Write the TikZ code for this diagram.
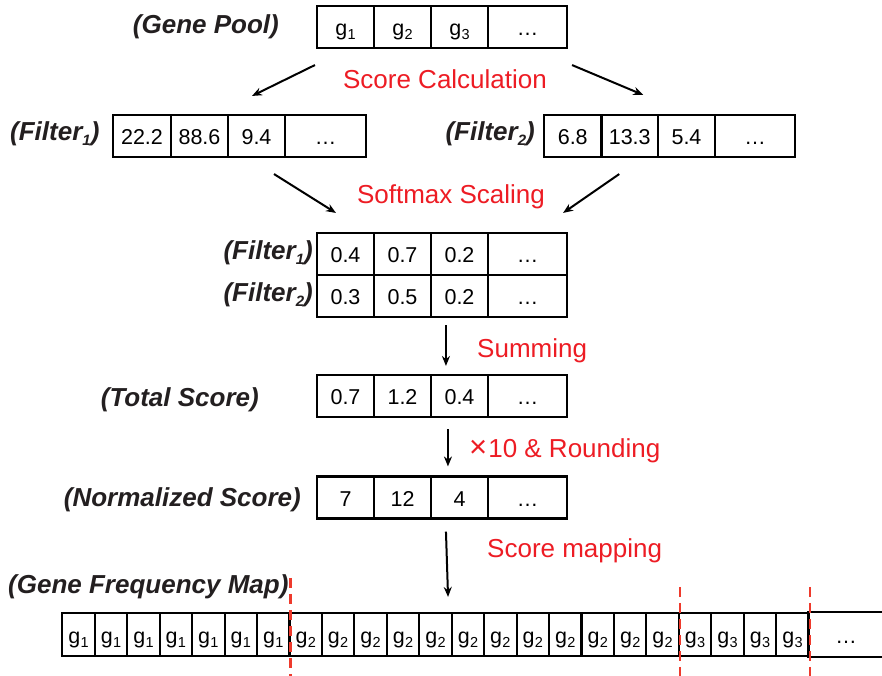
\documentclass[tikz,border=0pt]{standalone}
\usepackage{fontspec}
\setmainfont{Liberation Sans}
\usetikzlibrary{arrows.meta}

\definecolor{opred}{HTML}{ED1C24}
\definecolor{cutred}{HTML}{EE3A2C}
\definecolor{ink}{HTML}{231F20}

\newcommand\cellfont{\fontsize{21.5pt}{24pt}\selectfont}
\newcommand\lblfont{\fontsize{26pt}{30pt}\selectfont\bfseries\itshape}
\newcommand\opfont{\fontsize{26pt}{30pt}\selectfont}
% gene symbol with a lowered index
\newcommand\gene[1]{g\kern0.3pt\raisebox{-4pt}{\fontsize{14.5pt}{14.5pt}\selectfont #1}}
% lowered index inside the bold italic row labels
\newcommand\fsub[1]{\raisebox{-5pt}{\fontsize{15pt}{15pt}\selectfont #1}}

\tikzset{
  cell/.style={draw=black, line width=2.1pt, inner sep=0pt, minimum height=42pt,
               text height=17pt, text depth=0pt, font=\cellfont, text=black},
  lbl/.style={font=\lblfont, text=ink, inner sep=0pt},
  op/.style={font=\opfont, text=opred, inner sep=0pt},
  flow/.style={-{Stealth[length=10pt,width=8pt]}, line width=2pt},
  cut/.style={draw=cutred, line width=2.2pt, dash pattern=on 10pt off 6pt}
}

\begin{document}
\begin{tikzpicture}[x=1pt,y=-1pt]
\useasboundingbox (0,0) rectangle (882,675);

% ---- gene pool
\node[lbl, anchor=base east] (lgp) at (279,33) {(Gene Pool)};
\node[cell, minimum width=57pt] (gp1) at (345.5,27) {\gene{1}};
\node[cell, minimum width=57pt] (gp2) at (402.5,27) {\gene{2}};
\node[cell, minimum width=57pt] (gp3) at (459.5,27) {\gene{3}};
\node[cell, minimum width=79pt] (gp4) at (527.5,27) {…};

\node[op, anchor=base] (opscore) at (445,88) {Score Calculation};

% ---- raw filter scores
\node[lbl, anchor=base west] (lf1) at (10,140) {(Filter\fsub{1})};
\node[cell, minimum width=58pt] (fa1) at (142,136) {22.2};
\node[cell, minimum width=57pt] (fa2) at (199.5,136) {88.6};
\node[cell, minimum width=57pt] (fa3) at (256.5,136) {9.4};
\node[cell, minimum width=81pt] (fa4) at (325.5,136) {…};

\node[lbl, anchor=base east] (lf2) at (535,140) {(Filter\fsub{2})};
\node[cell, minimum width=57.5pt] (fb1) at (572.75,136) {6.8};
\node[cell, minimum width=56.5pt] (fb2) at (629.75,136) {13.3};
\node[cell, minimum width=57pt] (fb3) at (686.5,136) {5.4};
\node[cell, minimum width=80pt] (fb4) at (755,136) {…};

\draw[flow] ([xshift=-1pt,yshift=-16pt]gp1.south west) -- ([xshift=-4.5pt,yshift=18pt]fa3.north);
\draw[flow] ([xshift=4pt,yshift=-16pt]gp4.south east) -- ([xshift=13.5pt,yshift=19pt]fb2.north);

\node[op, anchor=base] (opsoft) at (451,203) {Softmax Scaling};

% ---- softmax scaled scores
\node[lbl, anchor=base east] (ls1) at (313,259) {(Filter\fsub{1})};
\node[cell, minimum width=57pt] (sa1) at (345.5,254) {0.4};
\node[cell, minimum width=57pt] (sa2) at (402.5,254) {0.7};
\node[cell, minimum width=57pt] (sa3) at (459.5,254) {0.2};
\node[cell, minimum width=79pt] (sa4) at (527.5,254) {…};

\node[lbl, anchor=base east] (ls2) at (313,301) {(Filter\fsub{2})};
\node[cell, minimum width=57pt] (sb1) at (345.5,296) {0.3};
\node[cell, minimum width=57pt] (sb2) at (402.5,296) {0.5};
\node[cell, minimum width=57pt] (sb3) at (459.5,296) {0.2};
\node[cell, minimum width=79pt] (sb4) at (527.5,296) {…};

\draw[flow] ([xshift=17.5pt,yshift=-16pt]fa3.south) -- ([xshift=20pt,yshift=19pt]sa1.north west);
\draw[flow] ([xshift=-10.5pt,yshift=-16pt]fb2.south) -- ([xshift=-5pt,yshift=19pt]sa4.north east);

% ---- total score
\node[lbl, anchor=base east] (lts) at (259,406) {(Total Score)};
\node[cell, minimum width=57pt] (ta1) at (345.5,396) {0.7};
\node[cell, minimum width=57pt] (ta2) at (402.5,396) {1.2};
\node[cell, minimum width=57pt] (ta3) at (459.5,396) {0.4};
\node[cell, minimum width=79pt] (ta4) at (527.5,396) {…};

\draw[flow] ([xshift=16pt,yshift=-7pt]sb3.south west) -- ([xshift=16pt,yshift=8pt]ta3.north west);
\node[op, anchor=base west] (opsum) at (477,357) {Summing};

% ---- normalized score
\node[lbl, anchor=base east] (lns) at (301,506) {(Normalized Score)};
\node[cell, minimum width=57pt] (na1) at (345.5,497.5) {7};
\node[cell, minimum width=57pt] (na2) at (402.5,497.5) {12};
\node[cell, minimum width=57pt] (na3) at (459.5,497.5) {4};
\node[cell, minimum width=79pt] (na4) at (527.5,497.5) {…};

\draw[flow] ([xshift=18pt,yshift=-11pt]ta3.south west) -- ([xshift=18pt,yshift=9pt]na3.north west);
\node[op, anchor=base west] (opround) at (469,457)
  {{\fontsize{31pt}{31pt}\selectfont ×}\kern1pt10 \& Rounding};

% ---- gene frequency map
\node[lbl, anchor=base west] (lmap) at (8,593) {(Gene Frequency Map)};
\foreach \i in {1,...,23} {
  \pgfmathsetmacro\cx{62.3+32.45*(\i-0.5)}
  \pgfmathtruncatemacro\gi{ifthenelse(\i<8,1,ifthenelse(\i<20,2,3))}
  \node[cell, minimum width=32.45pt, minimum height=43pt] (m\i) at (\cx,634.5) {\gene{\gi}};
}
\node[cell, draw=none, minimum width=75pt, minimum height=43pt] (m24) at (846.15,634.5) {…};
\draw[line width=2.1pt] (m24.north east) -- (m24.north west) -- (m24.south west) -- (m24.south east);

\draw[flow] ([xshift=16pt,yshift=-12pt]na3.south west) -- ([xshift=-4.7pt,yshift=15pt]m12.north east);
\node[op, anchor=base west] (opmap) at (487,557) {Score mapping};

% ---- group boundaries
\draw[cut] ([yshift=34pt]m7.north east) -- ([yshift=-19pt]m7.south east);
\draw[cut] ([yshift=25pt]m19.north east) -- ([yshift=-19pt]m19.south east);
\draw[cut] ([yshift=25pt]m23.north east) -- ([yshift=-19pt]m23.south east);
\end{tikzpicture}
\end{document}
